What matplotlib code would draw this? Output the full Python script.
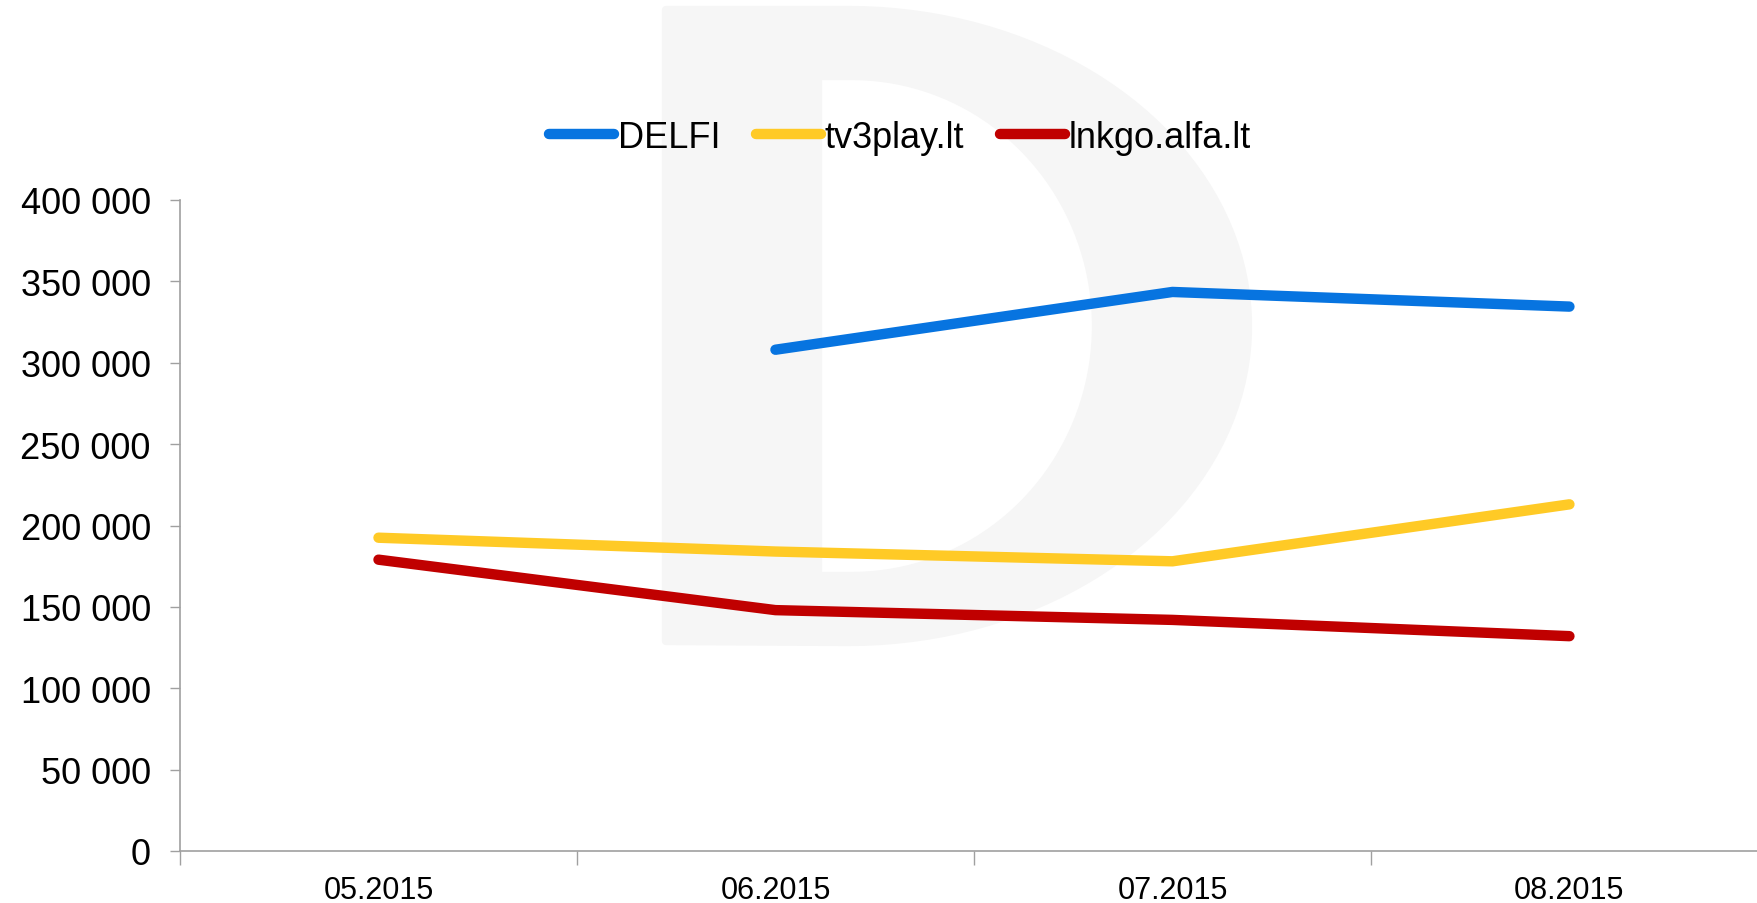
import numpy as np
import matplotlib.pyplot as plt
from matplotlib.path import Path
from matplotlib.patches import PathPatch
from matplotlib.ticker import FuncFormatter, MultipleLocator

plt.rcParams['font.family'] = ['Liberation Sans', 'DejaVu Sans']

# data
months = ['05.2015', '06.2015', '07.2015', '08.2015']
delfi = [np.nan, 308000, 343500, 334500]
tv3play = [192500, 184000, 178000, 213000]
lnkgo = [179000, 148000, 142000, 132000]

W, H = 1758, 904
fig = plt.figure(figsize=(W / 100, H / 100), dpi=100)

# light grey "D" watermark behind the chart (pixel coords -> figure coords)
def px(x, y):
    return (x / W, 1 - y / H)

t = np.linspace(-np.pi / 2, np.pi / 2, 80)
outer = [px(666, 642), px(666, 11), px(848, 11)]
outer += [px(848 + 400 * np.cos(a), 327 + 316 * np.sin(-a)) for a in t[::-1]]
outer += [px(666, 642)]
inner = [px(818, 77), px(852, 77)]
inner += [px(852 + 244 * np.cos(a), 327 + 250 * np.sin(-a)) for a in t[::-1]]
inner += [px(818, 577)]
inner = inner[::-1] + [inner[-1]]
verts = outer + inner
codes = ([Path.MOVETO] + [Path.LINETO] * (len(outer) - 2) + [Path.CLOSEPOLY]
         + [Path.MOVETO] + [Path.LINETO] * (len(inner) - 2) + [Path.CLOSEPOLY])
wm = PathPatch(Path(verts, codes), transform=fig.transFigure,
               facecolor='#F6F6F6', edgecolor='#F6F6F6', lw=6, joinstyle='round', zorder=-5)
fig.patches.append(wm)

ax = fig.add_axes([180 / W, 1 - 852 / H, 1 - 180 / W, (852 - 201) / H])
ax.set_facecolor('none')
ax.set_zorder(2)

x = np.arange(len(months))
kw = dict(lw=7.5, solid_capstyle='round', solid_joinstyle='round')
ax.plot(x, delfi, color='#0774E0', label='DELFI', **kw)
ax.plot(x, tv3play, color='#FFCA26', label='tv3play.lt', **kw)
ax.plot(x, lnkgo, color='#C00000', label='lnkgo.alfa.lt', **kw)

ax.set_ylim(0, 400000)
ax.set_xlim(-0.5, 3.475)
ax.yaxis.set_major_locator(MultipleLocator(50000))
ax.yaxis.set_major_formatter(FuncFormatter(lambda v, p: f'{int(v):,}'.replace(',', ' ')))

ax.set_xticks(x)
ax.set_xticklabels(months)
ax.set_xticks(np.arange(-0.5, 3.5, 1), minor=True)
ax.tick_params(axis='x', which='major', length=0, pad=17, labelsize=22)
ax.tick_params(axis='x', which='minor', length=10, width=1, color='#A0A0A0')
ax.tick_params(axis='y', length=7, width=1, color='#A0A0A0', pad=14, labelsize=26)

for s in ['top', 'right']:
    ax.spines[s].set_visible(False)
for s in ['left', 'bottom']:
    ax.spines[s].set_color('#A0A0A0')
    ax.spines[s].set_linewidth(1.2)

fig.legend(loc='center', bbox_to_anchor=(0.512, 1 - 138 / H), ncol=3, frameon=False,
           fontsize=26, handlelength=1.8, handletextpad=0.1, columnspacing=1.0)

fig.savefig('out.png', dpi=100)
